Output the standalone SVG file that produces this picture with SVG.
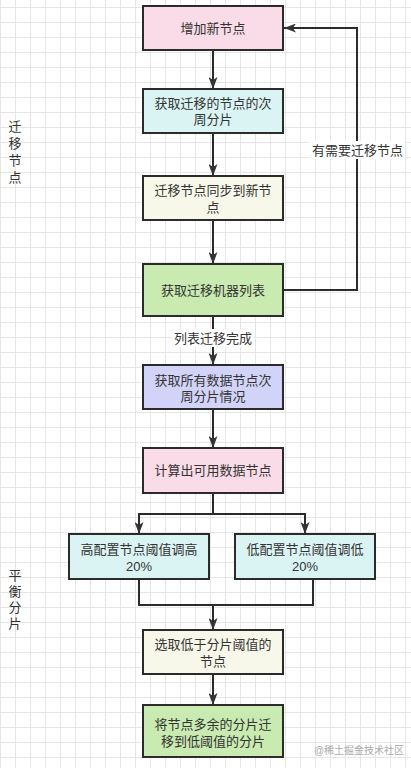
<svg xmlns="http://www.w3.org/2000/svg" width="411" height="768" viewBox="0 0 411 768">
<defs>
<pattern id="grid" x="0" y="7" width="15" height="15" patternUnits="userSpaceOnUse">
<path d="M0.5,0 V15 M0,0.5 H15" fill="none" stroke="#e6e6e6" stroke-width="1"/>
</pattern>
<marker id="arr" viewBox="0 0 12 9" refX="12" refY="4.5" markerWidth="12" markerHeight="9" markerUnits="userSpaceOnUse" orient="auto">
<path d="M0,0 L12,4.5 L0,9 L3,4.5 z" fill="#333"/>
</marker>
<style>
.box{stroke:#2b2b2b;stroke-width:2}
.pink{fill:#fadbe8}
.cyan{fill:#daf3f3}
.ivory{fill:#f8f8ea}
.green{fill:#c9eab0}
.lav{fill:#d2d3f8}
text{font-family:"Liberation Sans","Noto Sans CJK SC",sans-serif;font-size:13px;fill:#333;text-anchor:middle;dominant-baseline:central}
.wm{font-size:10px;fill:#aaa}
.edge{fill:none;stroke:#2b2b2b;stroke-width:2}
</style>
</defs>
<rect width="411" height="768" fill="#fff"/>
<rect width="411" height="768" fill="url(#grid)"/>

<g id="connectors">
<path class="edge" d="M213,50 V89" marker-end="url(#arr)"/>
<path class="edge" d="M213,133 V176" marker-end="url(#arr)"/>
<path class="edge" d="M213,220 V264" marker-end="url(#arr)"/>
<path class="edge" d="M283,290 H357 V28 H284" marker-end="url(#arr)"/>
<path class="edge" d="M213,316 V365" marker-end="url(#arr)"/>
<path class="edge" d="M213,409 V448" marker-end="url(#arr)"/>
<path class="edge" d="M213,493 V514 H139 V534" marker-end="url(#arr)"/>
<path class="edge" d="M213,514 H305 V534" marker-end="url(#arr)"/>
<path class="edge" d="M139,579 V605 H313 V579"/>
<path class="edge" d="M213,605 V630" marker-end="url(#arr)"/>
<path class="edge" d="M213,674 V705" marker-end="url(#arr)"/>
<rect x="310" y="141" width="95" height="18" fill="#fff"/>
<text x="357.5" y="150">有需要迁移节点</text>
<rect x="172" y="329" width="82" height="18" fill="#fff"/>
<text x="213" y="338">列表迁移完成</text>
</g>

<g id="n1"><rect class="box pink" x="143" y="6" width="140" height="44"/><text x="213" y="28">增加新节点</text></g>
<g id="n2"><rect class="box cyan" x="143" y="89" width="140" height="44"/><text x="213" y="103">获取迁移的节点的次<tspan x="213" dy="16">周分片</tspan></text></g>
<g id="n3"><rect class="box ivory" x="143" y="176" width="140" height="44"/><text x="213" y="190.5">迁移节点同步到新节<tspan x="213" dy="16">点</tspan></text></g>
<g id="n4"><rect class="box green" x="143" y="264" width="140" height="52"/><text x="213" y="290">获取迁移机器列表</text></g>
<g id="n5"><rect class="box lav" x="143" y="365" width="140" height="44"/><text x="213" y="380">获取所有数据节点次<tspan x="213" dy="16">周分片情况</tspan></text></g>
<g id="n6"><rect class="box pink" x="143" y="448" width="140" height="45"/><text x="213" y="470.5">计算出可用数据节点</text></g>
<g id="n7"><rect class="box cyan" x="69" y="534" width="140" height="45"/><text x="139" y="549.5">高配置节点阈值调高<tspan x="139" dy="16">20%</tspan></text></g>
<g id="n8"><rect class="box cyan" x="235" y="534" width="140" height="45"/><text x="305" y="549.5">低配置节点阈值调低<tspan x="305" dy="16">20%</tspan></text></g>
<g id="n9"><rect class="box ivory" x="143" y="630" width="140" height="44"/><text x="213" y="644.5">选取低于分片阈值的<tspan x="213" dy="16">节点</tspan></text></g>
<g id="n10"><rect class="box green" x="143" y="705" width="140" height="52"/><text x="213" y="724.5">将节点多余的分片迁<tspan x="213" dy="16">移到低阈值的分片</tspan></text></g>

<g id="side1"><text x="15" y="126">迁<tspan x="15" dy="17">移</tspan><tspan x="15" dy="17">节</tspan><tspan x="15" dy="17">点</tspan></text></g>
<g id="side2"><text x="15" y="575">平<tspan x="15" dy="16">衡</tspan><tspan x="15" dy="16">分</tspan><tspan x="15" dy="16">片</tspan></text></g>
<text class="wm" x="359" y="750">@稀土掘金技术社区</text>
</svg>
